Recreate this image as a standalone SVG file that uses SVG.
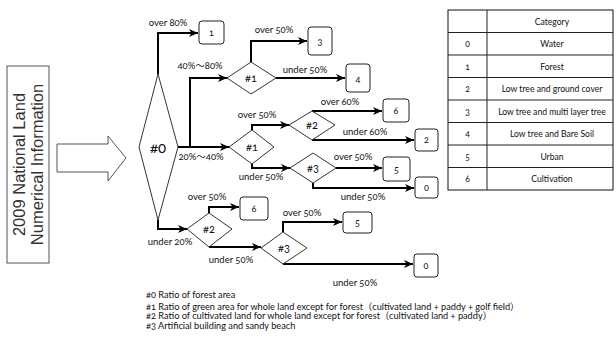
<svg xmlns="http://www.w3.org/2000/svg" width="616" height="338" viewBox="0 0 616 338">
<defs>
<marker id="ah" markerUnits="userSpaceOnUse" markerWidth="10" markerHeight="10" refX="9" refY="4.5" orient="auto">
<path d="M0,0.5 L9,4.5 L0,8.5 L2.5,4.5 z" fill="#000"/>
</marker>
<style>
.c{fill:none;stroke:#000;stroke-width:2;marker-end:url(#ah)}
.d{fill:#fff;stroke:#000;stroke-width:0.8}
.b{fill:#fff;stroke:#222;stroke-width:1}
.t{font-family:Lato,"Noto Sans CJK JP",sans-serif;fill:#111;font-variant-numeric:oldstyle-nums}
.l{font-size:9.5px;text-anchor:middle}
.n{font-size:9px;text-anchor:middle}
.h{font-size:11px;text-anchor:middle}
.tb{font-size:8.6px;text-anchor:middle}
.g{font-size:9.2px}
.tl{stroke:#222;stroke-width:1}
</style>
</defs>
<rect width="616" height="338" fill="#fff"/>
<g id="source">
<rect x="7" y="66" width="42" height="197" fill="#fff" stroke="#555" stroke-width="1"/>
<text transform="translate(25,164.5) rotate(-90)" font-family="'Liberation Sans',Arial,sans-serif" font-size="16.5" fill="#333" text-anchor="middle">2009 National Land</text>
<text transform="translate(43,164.5) rotate(-90)" font-family="'Liberation Sans',Arial,sans-serif" font-size="16.5" fill="#333" text-anchor="middle">Numerical Information</text>
</g>
<g id="big-arrow">
<polygon points="57,144 108,144 108,136 126,158 108,181 108,172 57,172" fill="#fff" stroke="#555" stroke-width="1"/>
</g>
<g id="connectors">
<path class="c" d="M158,74 V33 H198"/>
<path class="c" d="M178,147 H190 V78 H227"/>
<path class="c" d="M190,147 H229"/>
<path class="c" d="M251,62 V41 H307"/>
<path class="c" d="M276,78 H345"/>
<path class="c" d="M252,130 V125 H289"/>
<path class="c" d="M252,164 V168 H290"/>
<path class="c" d="M312,111 H382"/>
<path class="c" d="M312,140 H414"/>
<path class="c" d="M336,168 H382"/>
<path class="c" d="M313,183 V188 H414"/>
<path class="c" d="M158,220 V229 H187"/>
<path class="c" d="M209,213 V207 H239"/>
<path class="c" d="M209,247 H261"/>
<path class="c" d="M283,232 V222 H342"/>
<path class="c" d="M283,264 H413"/>
</g>
<g id="labels" class="t">
<text class="l" x="168" y="26">over 80%</text>
<text class="l" x="200" y="69">40%～80%</text>
<text class="l" x="201" y="160">20%～40%</text>
<text class="l" x="274" y="33">over 50%</text>
<text class="l" x="305" y="73">under 50%</text>
<text class="l" x="257" y="118">over 50%</text>
<text class="l" x="261" y="180">under 50%</text>
<text class="l" x="340" y="105">over 60%</text>
<text class="l" x="365" y="135">under 60%</text>
<text class="l" x="353" y="160">over 50%</text>
<text class="l" x="363" y="200">under 50%</text>
<text class="l" x="207" y="200">over 50%</text>
<text class="l" x="170" y="245">under 20%</text>
<text class="l" x="231" y="263">under 50%</text>
<text class="l" x="302" y="216">over 50%</text>
<text class="l" x="355" y="286">under 50%</text>
</g>
<g id="d0"><polygon class="d" points="158,74 178,147 158,220 139,147"/><text class="t" x="158" y="153" font-size="15" text-anchor="middle">#0</text></g>
<g id="d1a"><polygon class="d" points="251,62 276,78 251,94 227,78"/><text class="t h" x="251" y="82">#1</text></g>
<g id="d1b"><polygon class="d" points="252,130 274,147 252,164 229,147"/><text class="t h" x="252" y="151">#1</text></g>
<g id="d2a"><polygon class="d" points="312,111 335,125 312,140 289,125"/><text class="t h" x="312" y="129">#2</text></g>
<g id="d3a"><polygon class="d" points="313,153 336,168 313,183 290,168"/><text class="t h" x="313" y="172">#3</text></g>
<g id="d2b"><polygon class="d" points="209,213 232,229 209,247 187,229"/><text class="t h" x="209" y="233">#2</text></g>
<g id="d3b"><polygon class="d" points="283,232 307,248 283,264 261,248"/><text class="t h" x="284" y="252">#3</text></g>
<g id="box1"><rect class="b" x="199" y="21" width="25" height="23" rx="3"/><text class="t n" x="211.5" y="36">1</text></g>
<g id="box3"><rect class="b" x="308" y="27" width="24" height="28" rx="3"/><text class="t n" x="320" y="45">3</text></g>
<g id="box4"><rect class="b" x="346" y="64" width="24" height="28" rx="3"/><text class="t n" x="358" y="83">4</text></g>
<g id="box6a"><rect class="b" x="383" y="99" width="26" height="23" rx="3"/><text class="t n" x="396" y="114">6</text></g>
<g id="box2"><rect class="b" x="415" y="129" width="23" height="22" rx="3"/><text class="t n" x="426.5" y="143">2</text></g>
<g id="box5a"><rect class="b" x="383" y="157" width="27" height="24" rx="3"/><text class="t n" x="396.5" y="173">5</text></g>
<g id="box0a"><rect class="b" x="415" y="177" width="23" height="21" rx="3"/><text class="t n" x="426.5" y="191">0</text></g>
<g id="box6b"><rect class="b" x="240" y="197" width="28" height="23" rx="3"/><text class="t n" x="254" y="212">6</text></g>
<g id="box5b"><rect class="b" x="343" y="212" width="29" height="21" rx="3"/><text class="t n" x="357.5" y="226">5</text></g>
<g id="box0b"><rect class="b" x="414" y="254" width="24" height="23" rx="3"/><text class="t n" x="426" y="269">0</text></g>
<g id="table">
<rect x="448" y="10" width="165" height="180" fill="#fff" stroke="#111" stroke-width="1"/>
<line class="tl" x1="487" y1="10" x2="487" y2="190"/>
<line class="tl" x1="448" y1="32.5" x2="613" y2="32.5"/>
<line class="tl" x1="448" y1="55" x2="613" y2="55"/>
<line class="tl" x1="448" y1="77.5" x2="613" y2="77.5"/>
<line class="tl" x1="448" y1="100" x2="613" y2="100"/>
<line class="tl" x1="448" y1="122.5" x2="613" y2="122.5"/>
<line class="tl" x1="448" y1="145" x2="613" y2="145"/>
<line class="tl" x1="448" y1="167.5" x2="613" y2="167.5"/>
<g class="t tb">
<text x="552" y="24.5">Category</text>
<text x="467.5" y="47">0</text><text x="552" y="47">Water</text>
<text x="467.5" y="69.5">1</text><text x="552" y="69.5">Forest</text>
<text x="467.5" y="92">2</text><text x="552" y="92">Low tree and ground cover</text>
<text x="467.5" y="114.5">3</text><text x="552" y="114.5">Low tree and multi layer tree</text>
<text x="467.5" y="137">4</text><text x="552" y="137">Low tree and Bare Soil</text>
<text x="467.5" y="159.5">5</text><text x="552" y="159.5">Urban</text>
<text x="467.5" y="182">6</text><text x="552" y="182">Cultivation</text>
</g>
</g>
<g id="legend" class="t g">
<text x="146" y="298">#0 Ratio of forest area</text>
<text x="146" y="309.5">#1 Ratio of green area for whole land except for forest（cultivated land + paddy + golf field）</text>
<text x="146" y="319">#2 Ratio of cultivated land for whole land except for forest（cultivated land + paddy）</text>
<text x="146" y="328.5">#3 Artificial building and sandy beach</text>
</g>
</svg>
